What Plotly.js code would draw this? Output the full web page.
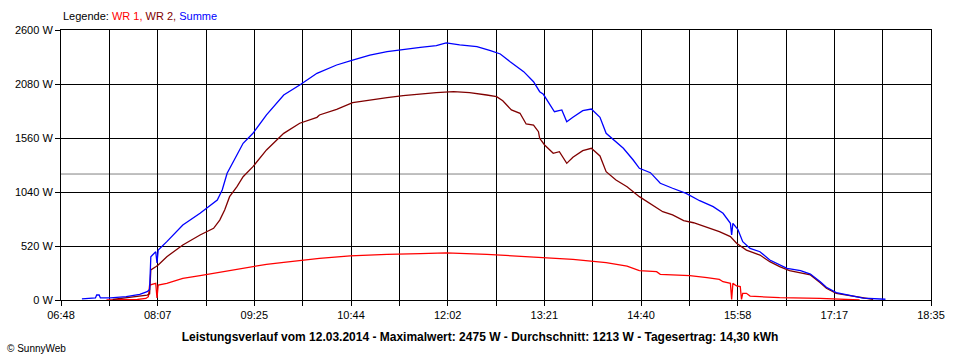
<!DOCTYPE html>
<html>
<head>
<meta charset="utf-8">
<script src="https://cdn.plot.ly/plotly-3.0.1.min.js"></script>
<style>html,body{margin:0;padding:0;background:#fff;}#chart{width:960px;height:360px;}</style>
</head>
<body>
<div id="chart"></div>
<script>
// ---- data (times HH:MM, watts) ----
const summeTimes = ['07:05','07:16','07:17','07:19','07:20','07:28','07:41','07:52','07:58','08:00','08:01','08:03','08:05','08:06','08:07','08:14','08:27','08:41','08:55','08:59','09:03','09:08','09:16','09:24','09:35','09:49','10:02','10:16','10:32','10:45','10:59','11:13','11:26','11:40','11:53','12:01','12:12','12:26','12:37','12:45','12:53','13:04','13:12','13:17','13:20','13:24','13:29','13:35','13:39','13:44','13:52','13:59','14:06','14:11','14:17','14:25','14:33','14:38','14:47','14:55','15:05','15:16','15:27','15:38','15:46','15:52','15:53','15:54','15:58','16:02','16:08','16:16','16:24','16:32','16:38','16:49','16:57','17:05','17:10','17:18','17:29','17:40','17:58'];
const summeWatts = [10,20,48,48,20,20,32,55,80,100,417,443,465,356,481,562,722,835,963,1059,1220,1332,1509,1605,1782,1974,2070,2183,2263,2311,2359,2391,2414,2433,2449,2475,2456,2440,2401,2369,2295,2199,2102,2006,1981,1910,1813,1830,1717,1759,1823,1839,1759,1605,1541,1461,1348,1268,1226,1124,1076,1027,956,899,835,738,626,738,681,562,497,465,385,337,305,282,250,176,122,71,45,19,7];

const wr2Times = ['07:30','07:41','07:52','07:58','08:00','08:01','08:05','08:07','08:14','08:27','08:41','08:52','08:57','09:01','09:05','09:11','09:16','09:24','09:35','09:49','10:02','10:16','10:18','10:32','10:45','10:59','11:13','11:26','11:40','11:53','12:07','12:20','12:34','12:42','12:47','12:54','13:01','13:06','13:12','13:16','13:17','13:21','13:28','13:33','13:39','13:44','13:52','13:59','14:06','14:11','14:19','14:28','14:38','14:49','14:57','15:05','15:14','15:22','15:33','15:43','15:52','15:57','16:05','16:16','16:24','16:32','16:40','16:49','16:57','17:05','17:10','17:18','17:29','17:40','17:48'];
const wr2Watts = [5,20,35,48,60,290,320,337,417,530,626,690,770,867,995,1091,1187,1284,1445,1605,1702,1759,1782,1836,1900,1926,1948,1968,1984,1997,2006,1997,1974,1958,1919,1830,1798,1695,1685,1621,1557,1493,1413,1428,1316,1374,1438,1461,1387,1236,1156,1091,995,915,850,819,764,744,700,658,610,546,481,433,369,321,282,257,241,167,113,64,42,16,5];

const wr1Times = ['07:25','07:50','07:57','07:59','08:00','08:05','08:06','08:07','08:14','08:27','08:41','08:55','09:08','09:22','09:35','09:49','10:02','10:16','10:18','10:43','11:13','11:40','12:01','12:34','13:01','13:15','13:17','13:44','14:11','14:28','14:38','14:52','14:55','15:19','15:33','15:43','15:46','15:52','15:53','15:54','15:57','16:00','16:01','16:02','16:05','16:08','16:16','16:32','17:05','17:35','17:37'];
const wr1Watts = [0,5,15,32,144,160,20,144,160,209,234,263,289,321,344,363,379,395,401,424,440,446,453,440,424,411,408,392,360,327,282,273,247,234,215,199,176,160,5,160,135,130,5,64,64,38,32,22,16,6,0];

const averageWatts = 1213;
const yTickValues = [0, 520, 1040, 1560, 2080, 2600];
const yTickLabels = ['0 W', '520 W', '1040 W', '1560 W', '2080 W', '2600 W'];
const xTickLabels = ['06:48','','08:07','','09:25','','10:44','','12:02','','13:21','','14:40','','15:58','','17:17','','18:35'];
const titleText = 'Leistungsverlauf vom 12.03.2014 - Maximalwert: 2475 W - Durchschnitt: 1213 W - Tagesertrag: 14,30 kWh';

// ---- helpers ----
function toMin(s){const p=s.split(':');return (+p[0])*60+(+p[1]);}
const xStart = toMin(xTickLabels[0]);
const xEnd = toMin(xTickLabels[xTickLabels.length-1]);
const step = (xEnd - xStart)/(xTickLabels.length-1);
const xTickVals = xTickLabels.map((_,i)=>xStart+i*step);

const font = 'Liberation Sans, Arial, sans-serif';
const traces = [
  {x: wr1Times.map(toMin), y: wr1Watts, mode:'lines', line:{color:'#ff0000', width:1.3}, name:'WR 1', hoverinfo:'skip'},
  {x: wr2Times.map(toMin), y: wr2Watts, mode:'lines', line:{color:'#800000', width:1.3}, name:'WR 2', hoverinfo:'skip'},
  {x: summeTimes.map(toMin), y: summeWatts, mode:'lines', line:{color:'#0000ff', width:1.3}, name:'Summe', hoverinfo:'skip'}
];

const layout = {
  width: 960, height: 360,
  margin: {l:61, r:29, t:30, b:60},
  paper_bgcolor:'#fff', plot_bgcolor:'#fff',
  showlegend:false,
  font:{family:font, size:11, color:'#000'},
  title:{text:'<b>'+titleText+'</b>', font:{family:font, size:12, color:'#000'}, x:0.5, xref:'container', xanchor:'center', y:1-337/360, yref:'container', yanchor:'middle'},
  xaxis:{range:[xStart,xEnd], tickmode:'array', tickvals:xTickVals, ticktext:xTickLabels,
    showgrid:true, gridcolor:'#000', gridwidth:1, zeroline:false,
    showline:true, linecolor:'#000', linewidth:1, mirror:true,
    ticks:'outside', ticklen:5, tickcolor:'#000', tickfont:{size:11}, fixedrange:true},
  yaxis:{range:[0,2600], tickmode:'array', tickvals:yTickValues, ticktext:yTickLabels,
    showgrid:true, gridcolor:'#000', gridwidth:1, zeroline:false,
    showline:true, linecolor:'#000', linewidth:1, mirror:true,
    ticks:'outside', ticklen:5, tickcolor:'#000', tickfont:{size:11}, fixedrange:true},
  shapes:[{type:'line', xref:'paper', x0:0, x1:1, yref:'y', y0:averageWatts, y1:averageWatts, line:{color:'#808080', width:1}, layer:'below'}],
  annotations:[
    {xref:'paper', yref:'paper', x:0, y:(300-16)/270, xanchor:'left', yanchor:'middle', showarrow:false,
     text:'Legende: <span style="color:#ff0000">WR 1</span><span style="color:#ff0000">, </span><span style="color:#800000">WR 2, </span><span style="color:#0000ff">Summe</span>',
     font:{size:11, family:font, color:'#000'}},
    {xref:'paper', yref:'paper', x:(5-61)/870, y:(300-348)/270, xanchor:'left', yanchor:'middle', showarrow:false,
     text:'© SunnyWeb', font:{size:10, family:font, color:'#000'}}
  ]
};
Plotly.newPlot('chart', traces, layout, {displayModeBar:false, staticPlot:true});
</script>
</body>
</html>
